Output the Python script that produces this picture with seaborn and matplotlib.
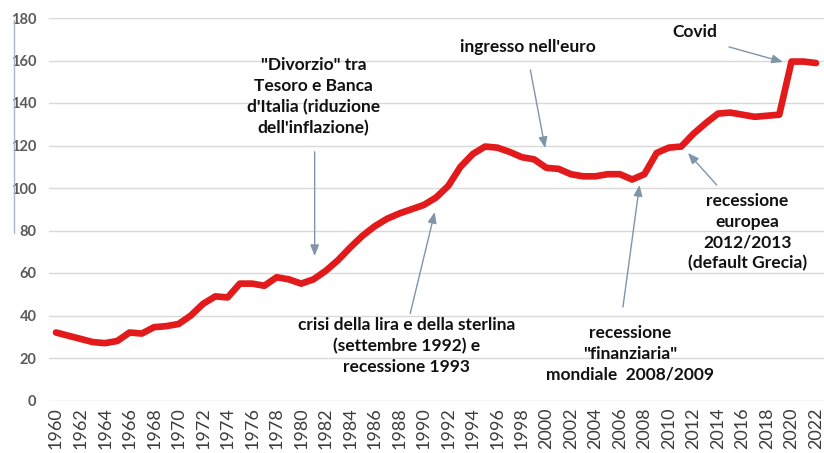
import matplotlib
matplotlib.use("Agg")
import matplotlib.pyplot as plt
from matplotlib.lines import Line2D
import seaborn as sns
import pandas as pd

# Debito pubblico italiano in rapporto al PIL (%)
years = list(range(1960, 2023))
debt_ratio = [
    32.0, 30.5, 29.0, 27.5, 27.0, 28.0, 32.0, 31.5, 34.5, 35.0,
    36.0, 40.0, 45.5, 49.0, 48.5, 55.0, 55.0, 54.0, 58.0, 57.0,
    55.0, 57.0, 61.0, 66.0, 72.0, 77.5, 82.0, 85.5, 88.0, 90.0,
    92.0, 95.5, 101.0, 110.0, 116.0, 119.5, 119.0, 117.0, 114.5, 113.5,
    109.5, 109.0, 106.5, 105.5, 105.5, 106.5, 106.5, 104.0, 106.5, 116.5,
    119.0, 119.5, 125.5, 130.5, 135.0, 135.5, 134.5, 133.5, 134.0, 134.5,
    159.5, 159.5, 158.8,
]
x_ticks = list(range(1960, 2023, 2))
y_ticks = list(range(0, 181, 20))

# Eventi annotati: testo, punto indicato (anno, valore), coda della freccia, posizione del testo
notes = [
    ("\"Divorzio\" tra\nTesoro e Banca\nd'Italia (riduzione\ndell'inflazione)",
     (1981.1, 68.0), (1981.1, 117.0), (1981.0, 143.0)),
    ("ingresso nell'euro", (1999.9, 118.8), (1998.7, 155.5), (1998.5, 166.5)),
    ("Covid", (2019.3, 159.3), (2014.9, 166.4), (2012.1, 173.5)),
    ("recessione\neuropea\n2012/2013\n(default Grecia)",
     (2011.55, 116.5), (2013.9, 101.4), (2016.4, 79.2)),
    ("recessione\n\"finanziaria\"\nmondiale  2008/2009",
     (2007.6, 101.4), (2006.25, 44.0), (2006.8, 22.1)),
    ("crisi della lira e della sterlina\n(settembre 1992) e\nrecessione 1993",
     (1990.9, 88.7), (1988.9, 41.0), (1988.6, 25.6)),
]

df = pd.DataFrame({"anno": years, "debito": debt_ratio})

sns.set_theme(style="white")
plt.rcParams["font.family"] = ["Lato", "DejaVu Sans"]

W, H = 824, 453
fig = plt.figure(figsize=(W / 100, H / 100), dpi=100)
ax = fig.add_axes([49 / W, 1 - 400.5 / H, (W - 49) / W, (400.5 - 18) / H])

ax.set_xlim(1959.43, 2022.65)
ax.set_ylim(0, 180)
ax.set_yticks(y_ticks)
ax.set_xticks(x_ticks)
ax.yaxis.grid(True, color="#d9d9d9", linewidth=1.0)
ax.xaxis.grid(False)
ax.set_axisbelow(True)
for s in ax.spines.values():
    s.set_visible(False)

sns.lineplot(data=df, x="anno", y="debito", ax=ax, color="#e31a1c",
             linewidth=4.8, solid_capstyle="round", solid_joinstyle="round")

ax.set_xlabel("")
ax.set_ylabel("")
ax.tick_params(axis="y", length=0, pad=9, labelsize=10.5, labelcolor="#5a5a5a")
ax.tick_params(axis="x", length=0, pad=5, labelsize=13, labelcolor="#3c3c3c",
               labelrotation=90)
for lab in ax.get_yticklabels():
    lab.set_fontweight("bold")
for lab in ax.get_xticklabels():
    lab.set_va("top")

for text, tip, tail, pos in notes:
    ax.annotate("", xy=tip, xytext=tail,
                arrowprops=dict(arrowstyle="-|>,head_length=0.55,head_width=0.22",
                                color="#7f95aa", lw=1.0, shrinkA=0, shrinkB=0))
    ax.text(pos[0], pos[1], text, ha="center", va="center", fontsize=12.5,
            fontweight="bold", color="#111111", linespacing=1.36)

# bordo verticale sottile a sinistra
fig.add_artist(Line2D([14 / W, 14 / W], [1 - 20 / H, 1 - 233 / H],
                      color="#aab6c3", linewidth=1.0))

fig.savefig("out.png", dpi=100)
